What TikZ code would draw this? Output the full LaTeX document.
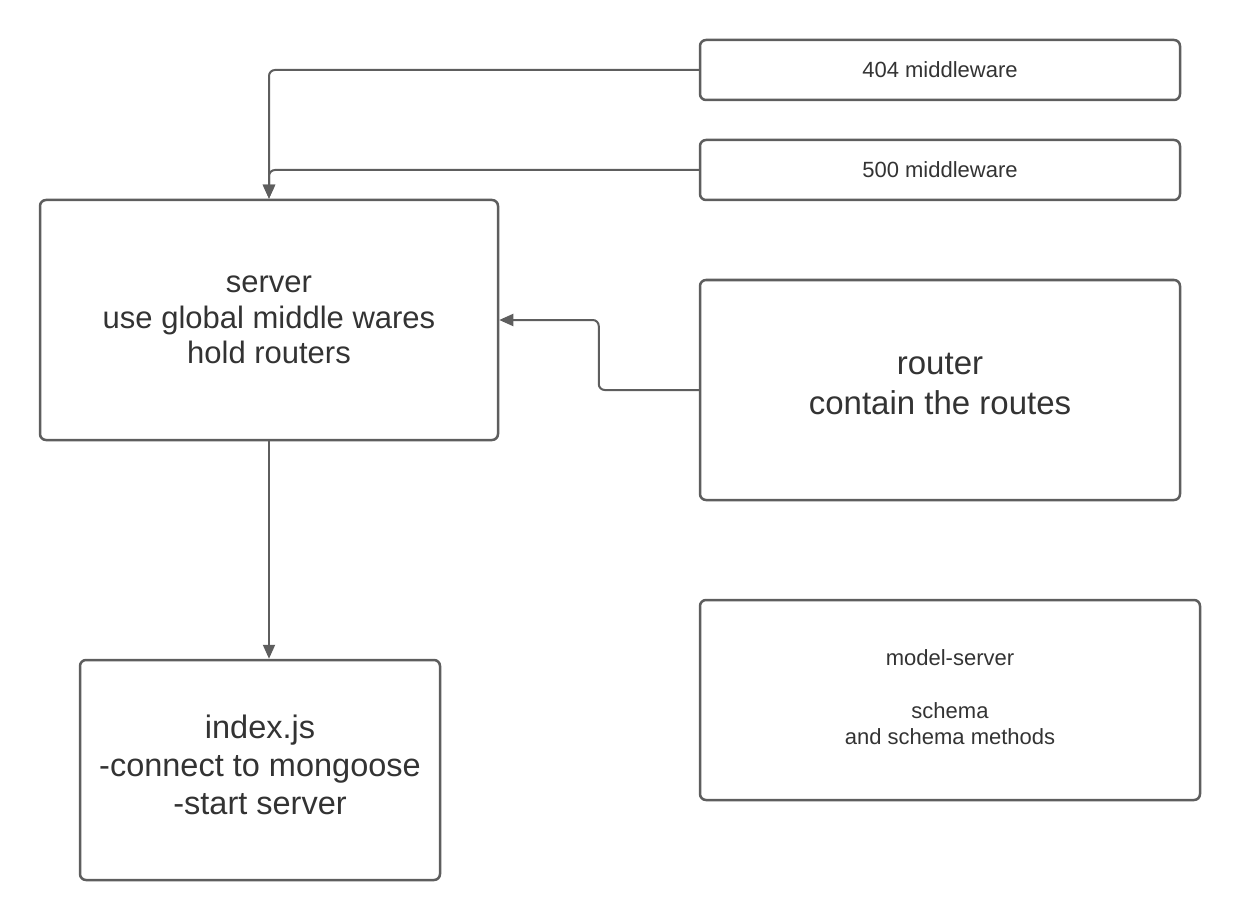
\documentclass[tikz,border=0pt]{standalone}
\usepackage{fontspec}
\setmainfont{Liberation Sans}
\usetikzlibrary{arrows.meta}
\definecolor{linegray}{HTML}{5E5E5E}
\definecolor{textgray}{HTML}{333333}

\begin{document}
\begin{tikzpicture}[x=1pt,y=-1pt]
  \tikzstyle{box}=[draw=linegray,line width=2.5pt,rounded corners=6pt,
                   inner sep=0pt,align=center,text=textgray]
  \tikzstyle{boxtext}=[inner sep=0pt,align=center,text=textgray]
  \tikzstyle{small}=[font=\fontsize{22}{26.5}\selectfont]
  \tikzstyle{large}=[font=\fontsize{31}{35.5}\selectfont]
  \tikzstyle{larger}=[font=\fontsize{33}{40}\selectfont]
  \tikzstyle{largest}=[font=\fontsize{32.5}{38}\selectfont]
  \tikzstyle{link}=[draw=linegray,line width=2pt,rounded corners=6pt,
                    -{Triangle[length=14pt,width=12pt]}]
\useasboundingbox (0,0) rectangle (1240,920);
% boxes
\node[box,small,minimum width=480pt,minimum height=60pt] (m404) at (940,70) {404 middleware};
\node[box,small,minimum width=480pt,minimum height=60pt] (m500) at (940,170) {500 middleware};
\node[box,large,minimum width=458pt,minimum height=240pt] (server) at (269,320)
     {server\\use global middle wares\\hold routers};
\node[box,minimum width=480pt,minimum height=220pt,
      label={[boxtext,larger,yshift=6pt]center:router\\contain the routes}] (router) at (940,390) {};
\node[box,minimum width=360pt,minimum height=220pt,
      label={[boxtext,largest,yshift=5pt]center:index.js\\-connect to mongoose\\-start server}] (index) at (260,770) {};
\node[box,minimum width=500pt,minimum height=200pt,
      label={[boxtext,small,yshift=3pt]center:model-server\\[26.5pt]schema\\and schema methods}] (model) at (950,700) {};
% connectors
\draw[link] (m404.west) -| (server.north);
\draw[link] (m500.west) -| (server.north);
\draw[link] (router.west) -- ++(-100,0) |- (server.east);
\draw[link] (server.south) -- (server.south |- index.north);
\end{tikzpicture}
\end{document}
